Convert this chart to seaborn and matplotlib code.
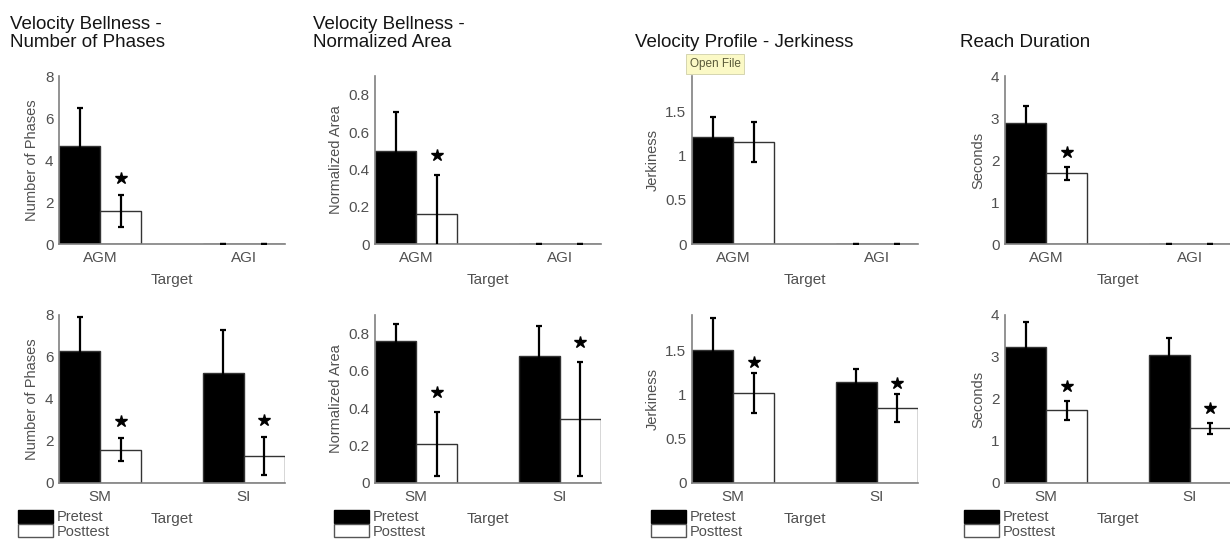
import matplotlib
matplotlib.use('Agg')
import matplotlib.pyplot as plt
from matplotlib.patches import Patch
from matplotlib import transforms
import pandas as pd
import seaborn as sns

sns.set_style('white')
plt.rcParams['font.family'] = ['Liberation Sans', 'DejaVu Sans']

phases = ['Pretest', 'Posttest']
targets = [['AGM', 'AGI'], ['SM', 'SI']]   # top row, bottom row

titles = ['Velocity Bellness -\nNumber of Phases', 'Velocity Bellness -\nNormalized Area',
          'Velocity Profile - Jerkiness', 'Reach Duration']
ylabels = ['Number of Phases', 'Normalized Area', 'Jerkiness', 'Seconds']
ymax = [8, 0.9, 1.9, 4]
yticks = [[0, 2, 4, 6, 8], [0, 0.2, 0.4, 0.6, 0.8], [0, 0.5, 1, 1.5], [0, 1, 2, 3, 4]]

# each list: [top row targets, bottom row targets]
nphases_pre = [[4.65, 0.0], [6.29, 5.23]]
nphases_pre_err = [[1.83, 0.0], [1.60, 2.06]]
nphases_post = [[1.58, 0.0], [1.58, 1.27]]
nphases_post_err = [[0.76, 0.0], [0.55, 0.90]]
nphases_sig = [[True, False], [True, True]]

area_pre = [[0.496, 0.0], [0.759, 0.678]]
area_pre_err = [[0.21, 0.0], [0.095, 0.164]]
area_post = [[0.163, 0.0], [0.21, 0.342]]
area_post_err = [[0.205, 0.0], [0.17, 0.305]]
area_sig = [[True, False], [True, True]]

jerk_pre = [[1.206, 0.0], [1.50, 1.145]]
jerk_pre_err = [[0.226, 0.0], [0.37, 0.145]]
jerk_post = [[1.153, 0.0], [1.019, 0.847]]
jerk_post_err = [[0.23, 0.0], [0.23, 0.16]]
jerk_sig = [[False, False], [True, True]]

dur_pre = [[2.89, 0.0], [3.25, 3.04]]
dur_pre_err = [[0.40, 0.0], [0.59, 0.42]]
dur_post = [[1.68, 0.0], [1.73, 1.30]]
dur_post_err = [[0.16, 0.0], [0.22, 0.13]]
dur_sig = [[True, False], [True, True]]

measures = [
    (nphases_pre, nphases_pre_err, nphases_post, nphases_post_err, nphases_sig),
    (area_pre, area_pre_err, area_post, area_post_err, area_sig),
    (jerk_pre, jerk_pre_err, jerk_post, jerk_post_err, jerk_sig),
    (dur_pre, dur_pre_err, dur_post, dur_post_err, dur_sig),
]

# layout in pixels
W, H = 1230, 546
lefts = [59, 375, 692, 1005]
tops = [76, 315]
ax_w, ax_h = 226, 168
star_gap = [17, 20, 11, 15]  # px above error bar
grey = '#505050'
group_w = 0.571
bar_w = group_w / 2

fig = plt.figure(figsize=(W / 100, H / 100), dpi=100)

for c, (pre, pre_err, post, post_err, sig) in enumerate(measures):
    for r in range(2):
        ax = fig.add_axes([lefts[c] / W, 1 - (tops[r] + ax_h) / H, ax_w / W, ax_h / H])
        df = pd.DataFrame({
            'Target': targets[r] * 2,
            'Phase': ['Pretest'] * 2 + ['Posttest'] * 2,
            'Value': pre[r] + post[r],
        })
        sns.barplot(data=df, x='Target', y='Value', hue='Phase', order=targets[r],
                    hue_order=phases, palette={'Pretest': 'black', 'Posttest': 'white'},
                    width=group_w, gap=0, errorbar=None, saturation=1,
                    edgecolor='#333333', linewidth=1, legend=False, ax=ax)

        # error bars + significance stars
        star_tr = transforms.offset_copy(ax.transData, fig=fig, y=star_gap[c], units='dots')
        for h, (vals, errs) in enumerate([(pre[r], pre_err[r]), (post[r], post_err[r])]):
            xs = [i + (h - 0.5) * bar_w for i in range(2)]
            ax.errorbar(xs, vals, yerr=errs, fmt='none', ecolor='black',
                        elinewidth=1.6, capsize=2, capthick=1.6, zorder=4)
            if h == 1:
                for i in range(2):
                    if sig[r][i]:
                        ax.plot(xs[i], vals[i] + errs[i], marker='*', color='black',
                                markersize=9, transform=star_tr, clip_on=False)

        ax.set_xlim(-bar_w, 1 + bar_w)
        ax.set_ylim(0, ymax[c])
        ax.set_yticks(yticks[c])
        ax.set_yticklabels(['{:g}'.format(v) for v in yticks[c]])
        ax.tick_params(axis='both', length=0, labelsize=11, labelcolor=grey)
        ax.tick_params(axis='x', pad=5)
        ax.tick_params(axis='y', pad=4)
        ax.set_xlabel('Target', fontsize=11, color=grey, labelpad=6)
        ax.set_ylabel(ylabels[c], fontsize=10.5, color=grey, labelpad=4)
        sns.despine(ax=ax)
        for s in ['left', 'bottom']:
            ax.spines[s].set_color('#808080')
            ax.spines[s].set_linewidth(1.2)

        if r == 1:
            handles = [Patch(facecolor='black', edgecolor='black', label='Pretest'),
                       Patch(facecolor='white', edgecolor='#555555', label='Posttest')]
            ax.legend(handles=handles, loc='upper left', bbox_to_anchor=(-0.181, -0.16),
                      frameon=False, fontsize=10.5, labelcolor=grey, handlelength=2.4,
                      handleheight=1.0, handletextpad=0.25, labelspacing=0.0,
                      borderpad=0, borderaxespad=0)

# panel titles
title_x = [10, 313, 635, 960]
for c in range(4):
    fig.text(title_x[c] / W, 1 - 51 / H, titles[c], ha='left', va='bottom',
             fontsize=13.5, color='#151515', linespacing=1.1)

# tooltip from the screenshot
fig.text(715 / W, 1 - 64 / H, 'Open File', ha='center', va='center', fontsize=8.5,
         color='#5a5a3a', bbox=dict(boxstyle='square,pad=0.3', fc='#fbf9c6',
                                    ec='#cfcfa8', lw=0.6))

fig.savefig('out.png', dpi=100)
